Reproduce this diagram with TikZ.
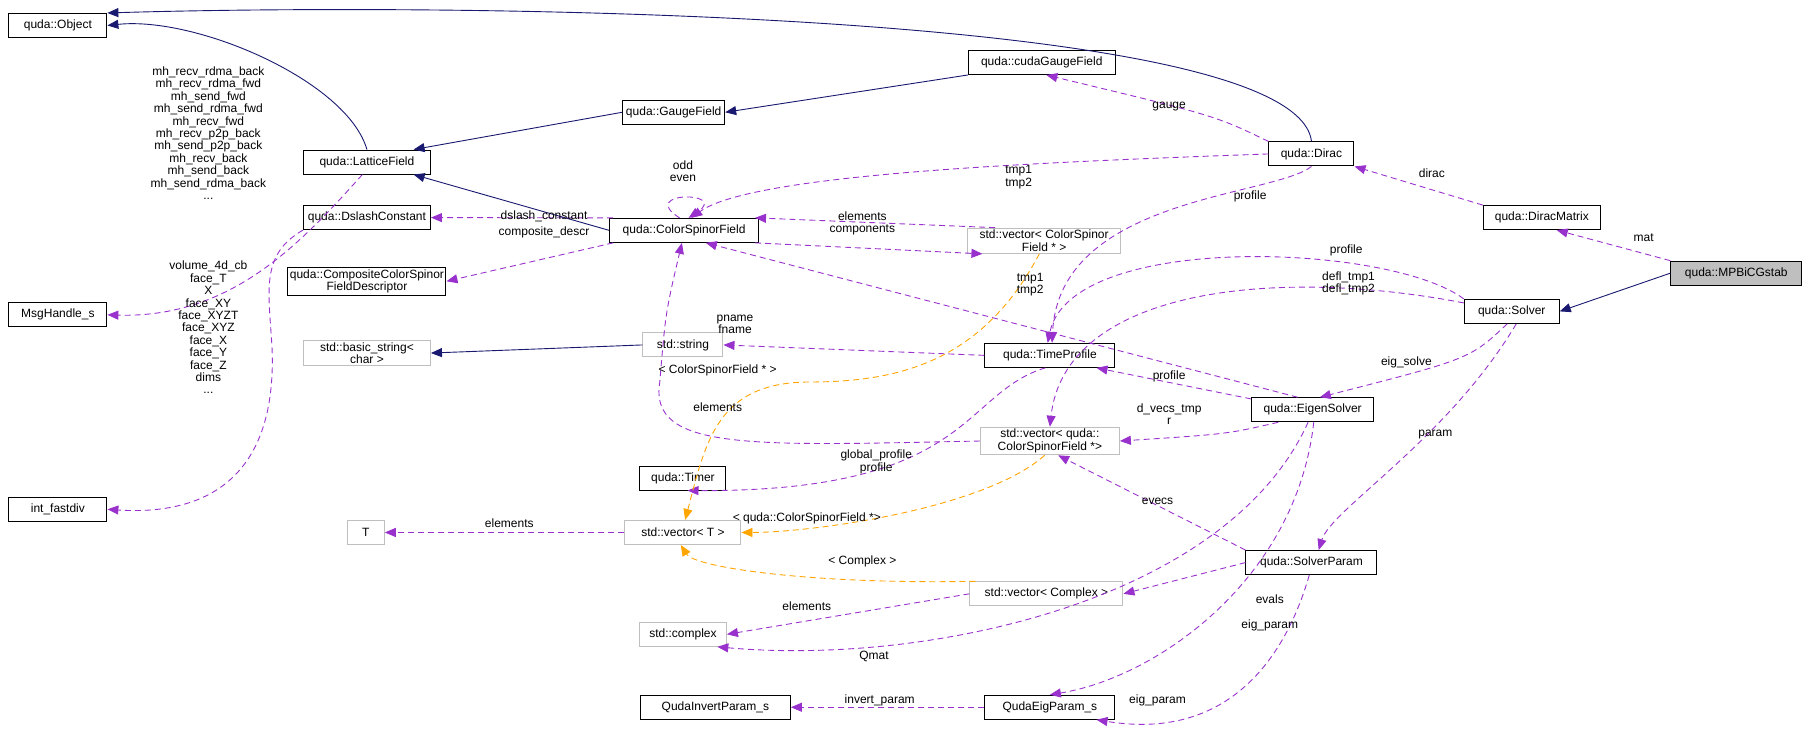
\documentclass[tikz,border=0pt]{standalone}
\usepackage{fontspec}
\setmainfont{Liberation Sans}
\usetikzlibrary{arrows.meta}
\definecolor{navyline}{RGB}{25,25,112}
\definecolor{usepurple}{RGB}{153,50,204}
\definecolor{tmplorange}{RGB}{255,165,0}
\definecolor{boxgray}{RGB}{191,191,191}
\tikzset{
  cls/.style={draw=black, line width=1pt, fill=white, minimum height=24pt,
    inner sep=2pt, align=center, font=\fontsize{12}{12.4}\selectfont},
  ext/.style={cls, draw=boxgray},
  inh/.style={draw=navyline, line width=0.9pt, -{Triangle[length=11pt,width=9pt]}},
  use/.style={draw=usepurple, line width=0.9pt, dash pattern=on 6pt off 4pt,
    -{Triangle[length=11pt,width=9pt]}},
  tmpl/.style={use, draw=tmplorange},
  lab/.style={align=center, inner sep=0pt, font=\fontsize{12}{12.4}\selectfont}
}
\begin{document}
\begin{tikzpicture}[x=1.1575pt, y=-1.1575pt]
  \useasboundingbox (0,0) rectangle (1568,631);

  %% classes
  \node[cls, minimum width=98pt] (obj) at (50,22) {quda::Object};
  \node[cls, minimum width=98pt] (msg) at (50,272) {MsgHandle\_s};
  \node[cls, minimum width=98pt] (ifd) at (50,440) {int\_fastdiv};
  \node[ext, minimum width=37pt] (tt) at (316,460) {T};
  \node[cls, minimum width=150pt] (qip) at (618,611) {QudaInvertParam\_s};
  \node[cls, minimum width=127pt] (lat) at (317,140) {quda::LatticeField};
  \node[cls, minimum width=102pt] (gf) at (582,97) {quda::GaugeField};
  \node[cls, minimum width=147pt] (cgf) at (900,54) {quda::cudaGaugeField};
  \node[cls, minimum width=85pt] (dir) at (1133,133) {quda::Dirac};
  \node[cls, minimum width=117pt] (dm) at (1332,188) {quda::DiracMatrix};
  \node[cls, minimum width=131pt, fill=boxgray] (mpb) at (1500,236) {quda::MPBiCGstab};
  \node[cls, minimum width=95pt] (sol) at (1306,269) {quda::Solver};
  \node[cls, minimum width=127pt] (dsc) at (317,188) {quda::DslashConstant};
  \node[cls, minimum width=127pt] (ccd) at (317,243) {quda::CompositeColorSpinor\\FieldDescriptor};
  \node[cls, minimum width=149pt] (csf) at (591,199) {quda::ColorSpinorField};
  \node[ext, minimum width=153pt] (vcsf) at (902,208) {std::vector< ColorSpinor\\Field * >};
  \node[ext, minimum width=127pt] (bstr) at (317,305) {std::basic\_string<\\char >};
  \node[ext, minimum width=80pt] (str) at (590,298) {std::string};
  \node[cls, minimum width=130pt] (tp) at (907,307) {quda::TimeProfile};
  \node[cls, minimum width=122pt] (es) at (1134,354) {quda::EigenSolver};
  \node[ext, minimum width=139pt] (vqcsf) at (907,381) {std::vector< quda::\\ColorSpinorField *>};
  \node[cls, minimum width=86pt] (tim) at (590,413) {quda::Timer};
  \node[ext, minimum width=116pt] (vt) at (590,460) {std::vector< T >};
  \node[ext, minimum width=153pt] (vc) at (904,513) {std::vector< Complex >};
  \node[cls, minimum width=131pt] (sp) at (1133,486) {quda::SolverParam};
  \node[ext, minimum width=87pt] (cx) at (590,548) {std::complex};
  \node[cls, minimum width=130pt] (qep) at (907,611) {QudaEigParam\_s};

  %% inheritance
  \draw[inh] (lat.north) .. controls (300,70) and (170,14) .. (obj.east);
  \draw[inh] (dir.north) .. controls (1120,10) and (400,2) .. (obj.north east);
  \draw[inh] (gf.west) -- (lat.15);
  \draw[inh] (cgf.south west) -- (gf.east);
  \draw[inh] (csf.west) -- (lat.-15);
  \draw[inh] (str.west) -- (bstr.east);
  \draw[inh] (mpb.west) -- (sol.east);

  %% usage
  \draw[use] (lat.250) .. controls (260,210) and (200,275) .. (msg.east);
  \draw[use] (dsc.south west) .. controls (225,220) and (232,250) .. (235,300)
    .. controls (240,420) and (170,445) .. (ifd.east);
  \draw[use] (csf.170) -- (dsc.east);
  \draw[use] (csf.190) -- (ccd.east);
  \draw[use] (csf.110) .. controls (550,165) and (630,165) .. (csf.70);
  \draw[use] (vcsf.165) -- (csf.10);
  \draw[use] (csf.-10) -- (vcsf.192);
  \draw[use] (dir.north west) .. controls (1050,100) .. (cgf.-70);
  \draw[use] (dir.west) .. controls (900,140) and (650,150) .. (csf.60);
  \draw[use] (dir.south) .. controls (1100,170) and (915,170) .. (tp.80);
  \draw[use] (dm.north west) -- (dir.south east);
  \draw[use] (mpb.north west) -- (dm.-40);
  \draw[use] (sol.north west) .. controls (1200,210) and (925,200) .. (tp.100);
  \draw[use] (sol.170) .. controls (1100,230) and (920,250) .. (vqcsf.north);
  \draw[use] (sol.250) .. controls (1270,310) .. (es.60);
  \draw[use] (sol.290) .. controls (1250,380) and (1150,440) .. (sp.60);
  \draw[use] (es.140) -- (csf.-30);
  \draw[use] (es.170) -- (tp.-15);
  \draw[use] (es.200) .. controls (1060,375) .. (vqcsf.east);
  \draw[use] (es.250) .. controls (1060,520) and (800,575) .. (cx.-20);
  \draw[use] (es.275) .. controls (1120,500) and (1000,585) .. (qep.north);
  \draw[use] (tp.west) -- (str.east);
  \draw[use] (tp.250) .. controls (830,340) and (840,425) .. (tim.-70);
  \draw[use] (vqcsf.west) .. controls (650,385) and (560,390) .. (570,330)
    .. controls (575,270) .. (csf.-100);
  \draw[use] (sp.north west) -- (vqcsf.-60);
  \draw[use] (sp.west) -- (vc.east);
  \draw[use] (sp.-100) .. controls (1110,570) and (1060,640) .. (qep.-15);
  \draw[use] (qep.west) -- (qip.east);
  \draw[use] (vt.west) -- (tt.east);
  \draw[use] (vc.west) -- (cx.east);

  %% templates
  \draw[tmpl] (vcsf.-110) .. controls (850,310) and (780,330) .. (700,330)
    .. controls (620,330) and (610,380) .. (vt.80);
  \draw[tmpl] (vqcsf.-110) .. controls (850,440) and (700,460) .. (vt.east);
  \draw[tmpl] (vc.170) .. controls (700,505) and (600,490) .. (vt.-100);

  %% labels
  \node[lab] (lmsg) at (180,115) {mh\_recv\_rdma\_back\\mh\_recv\_rdma\_fwd\\mh\_send\_fwd\\mh\_send\_rdma\_fwd\\mh\_recv\_fwd\\mh\_recv\_p2p\_back\\mh\_send\_p2p\_back\\mh\_recv\_back\\mh\_send\_back\\mh\_send\_rdma\_back\\...};
  \node[lab] (lifd) at (180,283) {volume\_4d\_cb\\face\_T\\X\\face\_XY\\face\_XYZT\\face\_XYZ\\face\_X\\face\_Y\\face\_Z\\dims\\...};
  \node[lab] (lodd) at (590,148) {odd\\even};
  \node[lab] (ldsc) at (470,187) {dslash\_constant};
  \node[lab] (lccd) at (470,201) {composite\_descr};
  \node[lab] (lel1) at (745,187) {elements};
  \node[lab] (lcmp) at (745,199) {components};
  \node[lab] (lgau) at (1010,92) {gauge};
  \node[lab] (ltmpd) at (880,153) {tmp1\\tmp2};
  \node[lab] (lprd) at (1080,170) {profile};
  \node[lab] (ldir) at (1237,150) {dirac};
  \node[lab] (lmat) at (1420,205) {mat};
  \node[lab] (lprs) at (1163,216) {profile};
  \node[lab] (ldefl) at (1165,245) {defl\_tmp1\\defl\_tmp2};
  \node[lab] (ltmpe) at (890,246) {tmp1\\tmp2};
  \node[lab] (lpn) at (635,280) {pname\\fname};
  \node[lab] (lt1) at (620,320) {< ColorSpinorField * >};
  \node[lab] (lel2) at (620,352) {elements};
  \node[lab] (lgp) at (757,399) {global\_profile\\profile};
  \node[lab] (lpre) at (1010,325) {profile};
  \node[lab] (ldv) at (1010,358) {d\_vecs\_tmp\\r};
  \node[lab] (lei) at (1215,313) {eig\_solve};
  \node[lab] (lpar) at (1240,375) {param};
  \node[lab] (lev) at (1000,433) {evecs};
  \node[lab] (lt2) at (697,448) {< quda::ColorSpinorField *>};
  \node[lab] (lel3) at (440,452) {elements};
  \node[lab] (lt3) at (745,485) {< Complex >};
  \node[lab] (levl) at (1097,518) {evals};
  \node[lab] (lep1) at (1097,540) {eig\_param};
  \node[lab] (lel4) at (697,524) {elements};
  \node[lab] (lq) at (755,567) {Qmat};
  \node[lab] (lip) at (760,605) {invert\_param};
  \node[lab] (lep2) at (1000,605) {eig\_param};
\end{tikzpicture}
\end{document}
